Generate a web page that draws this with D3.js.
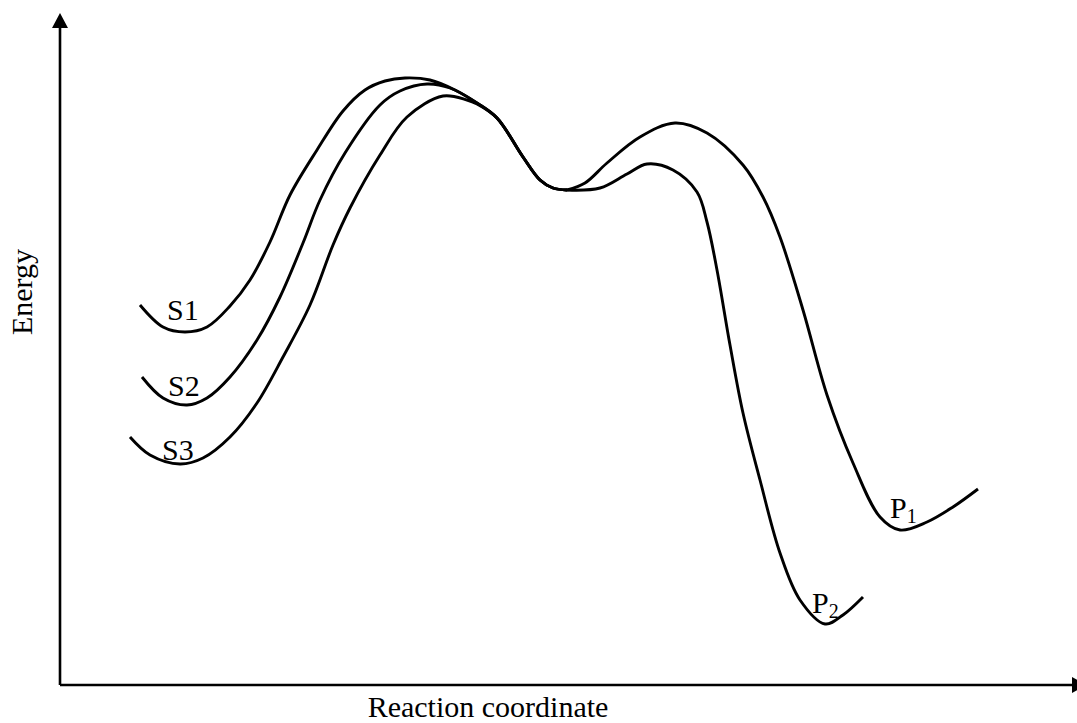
<!DOCTYPE html>
<html>
<head>
<meta charset="utf-8">
<script src="https://cdn.jsdelivr.net/npm/d3@7"></script>
<style>
  html, body { margin: 0; padding: 0; background: #fff; }
  svg { display: block; }
  text { font-family: "Liberation Serif", "Times New Roman", serif; fill: #000; }
</style>
</head>
<body>
<svg id="chart" width="1077" height="723"></svg>
<script>
// ---- Data (reaction coordinate, energy) in arbitrary units ----
const s1 = [[8,38],[10.3,35.8],[12.5,35.3],[14.7,35.8],[17,37.9],[19,40.5],[21,44.3],[23,49],[25.7,53.5],[28.3,57.4],[30.5,59.5],[32.5,60.4],[34.5,60.7],[37,60.5],[39.5,59.5],[41.7,58.2]];
const s2 = [[8.2,30.8],[10.3,28.7],[12.7,28],[14.7,28.7],[17,30.8],[19.7,34.5],[22,38.8],[24.3,44.2],[26,48.5],[28.5,53.2],[32,58],[34,59.4],[36.7,60.1],[39,59.7],[41.7,58.2]];
const s3 = [[7,24.8],[9,23],[12,22.1],[14.3,22.7],[17,24.8],[19.7,28.2],[22.3,32.8],[25,38],[27.3,44],[29,47.7],[32,53],[34.7,56.8],[38.3,58.9],[40.7,58.5],[41.7,58.1]];
const descent = [[43.7,56.7],[46.3,52.8],[48,50.5],[49.3,49.7],[50.7,49.5]];
const p1 = [[50.7,49.5],[52.5,50.2],[54.7,52.2],[58,54.8],[61.5,56.2],[64.7,55.2],[68.3,52],[70.3,48.8],[72,44.8],[74.3,37.5],[76.7,29],[79.3,22.2],[82,16.8],[84,15.5],[86.7,16.3],[89.3,17.8],[91.8,19.6]];
const p2 = [[50.7,49.5],[54,49.7],[56.7,51.1],[58.7,52.1],[61.3,51.5],[63.7,49.3],[64.7,46.3],[65.7,41.5],[67,34],[68.3,27.2],[70,20.5],[72,13.2],[74,8.5],[76.5,6.1],[78.3,7],[80.3,8.8]];

const labelNames = ["S1", "S2", "S3", "P", "P"];
const labelSubs  = ["", "", "", "1", "2"];
const labelAt    = [[10.7,36.5],[10.8,28.9],[10.2,22.5],[83,16.7],[75.2,7.2]];

const xTitle = "Reaction coordinate";
const yTitle = "Energy";
const xMax = 101.2, yMax = 65.7;

// ---- Scales ----
const x = d3.scaleLinear().domain([0, 100]).range([60, 1060]);
const y = d3.scaleLinear().domain([0, 67]).range([685, 15]);

const svg = d3.select("#chart");

// Axes with arrowheads
svg.append("line").attr("x1", x(0)).attr("y1", y(0)).attr("x2", x(0)).attr("y2", y(yMax))
  .attr("stroke", "#000").attr("stroke-width", 2.6);
svg.append("line").attr("x1", x(0)).attr("y1", y(0)).attr("x2", x(xMax)).attr("y2", y(0))
  .attr("stroke", "#000").attr("stroke-width", 2.6);
// y arrow
svg.append("path")
  .attr("d", `M${x(0)},${y(yMax) - 15} L${x(0) - 8},${y(yMax)} L${x(0) + 8},${y(yMax)} Z`)
  .attr("fill", "#000");
// x arrow
svg.append("path")
  .attr("d", `M${x(xMax) + 15},${y(0)} L${x(xMax)},${y(0) - 8} L${x(xMax)},${y(0) + 8} Z`)
  .attr("fill", "#000");

// Curves
const line = d3.line().x(d => x(d[0])).y(d => y(d[1])).curve(d3.curveCatmullRom.alpha(0.5));
[s1.concat(descent), s2.concat(descent), s3.concat(descent), p1, p2].forEach(arr => {
  svg.append("path").attr("d", line(arr)).attr("fill", "none")
    .attr("stroke", "#000").attr("stroke-width", 2.9).attr("stroke-linecap", "butt");
});

// Labels
labelNames.forEach((name, i) => {
  const t = svg.append("text").attr("x", x(labelAt[i][0])).attr("y", y(labelAt[i][1]))
    .attr("font-size", 30);
  t.append("tspan").text(name);
  if (labelSubs[i]) {
    t.append("tspan").attr("font-size", 20).attr("dy", 5).text(labelSubs[i]);
  }
});

// Axis titles
svg.append("text").attr("x", 488).attr("y", 717).attr("text-anchor", "middle")
  .attr("font-size", 30).text(xTitle);
svg.append("text").attr("transform", "translate(32,292) rotate(-90)").attr("text-anchor", "middle")
  .attr("font-size", 30).text(yTitle);
</script>
</body>
</html>
